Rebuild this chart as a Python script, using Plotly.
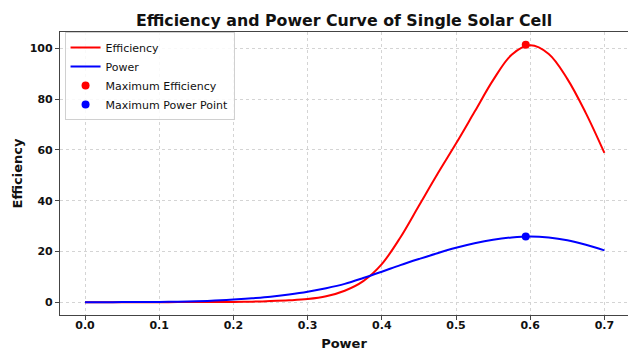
import plotly.graph_objects as go

# Data
power = [0.0, 0.025, 0.05, 0.075, 0.1, 0.125, 0.15, 0.175, 0.2, 0.225, 0.25, 0.275,
         0.3, 0.325, 0.35, 0.375, 0.4, 0.425, 0.45, 0.475, 0.5, 0.525, 0.55, 0.575,
         0.6, 0.625, 0.65, 0.675, 0.7]
efficiency = [0.0, 0.0, 0.0, 0.0, 0.0, 0.01, 0.02, 0.05, 0.1, 0.2, 0.4, 0.7,
              1.2, 2.3, 4.5, 8.3, 15.0, 25.5, 38.0, 50.5, 62.5, 75.0, 87.5, 97.5,
              101.2, 97.8, 88.0, 74.5, 58.8]
power_curve = [0.0, 0.0, 0.01, 0.04, 0.1, 0.2, 0.35, 0.6, 1.0, 1.5, 2.1, 3.0,
               4.1, 5.5, 7.2, 9.5, 12.0, 14.6, 17.0, 19.3, 21.4, 23.2, 24.6, 25.5,
               25.9, 25.5, 24.4, 22.6, 20.4]
max_point_x = [0.594]
max_eff_y = [101.4]
max_pow_y = [25.9]

x_ticks = [0.0, 0.1, 0.2, 0.3, 0.4, 0.5, 0.6, 0.7]
y_ticks = [0, 20, 40, 60, 80, 100]

FONT = "DejaVu Sans"

fig = go.Figure()
fig.add_trace(go.Scatter(x=power, y=efficiency, mode="lines", name="Efficiency",
                         line=dict(color="#ff0000", width=2, shape="spline", smoothing=1.0)))
fig.add_trace(go.Scatter(x=power, y=power_curve, mode="lines", name="Power",
                         line=dict(color="#0000ff", width=2, shape="spline", smoothing=1.0)))
fig.add_trace(go.Scatter(x=max_point_x, y=max_eff_y, mode="markers", name="Maximum Efficiency",
                         marker=dict(color="#ff0000", size=8)))
fig.add_trace(go.Scatter(x=max_point_x, y=max_pow_y, mode="markers", name="Maximum Power Point",
                         marker=dict(color="#0000ff", size=8)))

axis_common = dict(
    showgrid=True, gridcolor="#d4d4d4", griddash="dot", gridwidth=1,
    zeroline=False, showline=True, linecolor="#444444", linewidth=1.2,
    ticks="outside", ticklen=4, tickcolor="#444444",
    tickfont=dict(family=FONT, size=11, color="#111111", weight="bold"),
)

fig.update_layout(
    width=628, height=351,
    margin=dict(l=60, r=0, t=32, b=36),
    paper_bgcolor="white", plot_bgcolor="white",
    font=dict(family=FONT, color="#111111"),
    title=dict(text="Efficiency and Power Curve of Single Solar Cell",
               font=dict(family=FONT, size=15.8, weight="bold", color="#111111"),
               x=0.5, xref="paper", xanchor="center", y=0.943, yanchor="middle"),
    xaxis=dict(range=[-0.0337, 0.7318], tickvals=x_ticks,
               ticktext=[f"{v:.1f}" for v in x_ticks], mirror=True,
               ticklabelstandoff=-4,
               title=dict(text="Power", font=dict(family=FONT, size=13, weight="bold"), standoff=9),
               **axis_common),
    yaxis=dict(range=[-5.07, 106.47], tickvals=y_ticks,
               title=dict(text="Efficiency", font=dict(family=FONT, size=13, weight="bold"), standoff=4),
               **axis_common),
    legend=dict(x=0.008, y=1.0, xanchor="left", yanchor="top",
                bgcolor="rgba(255,255,255,0.85)", bordercolor="#d0d0d0", borderwidth=1,
                font=dict(family=FONT, size=11, color="#111111"),
                tracegroupgap=0, itemwidth=30),
    showlegend=True,
)

fig.write_html("out.html")
